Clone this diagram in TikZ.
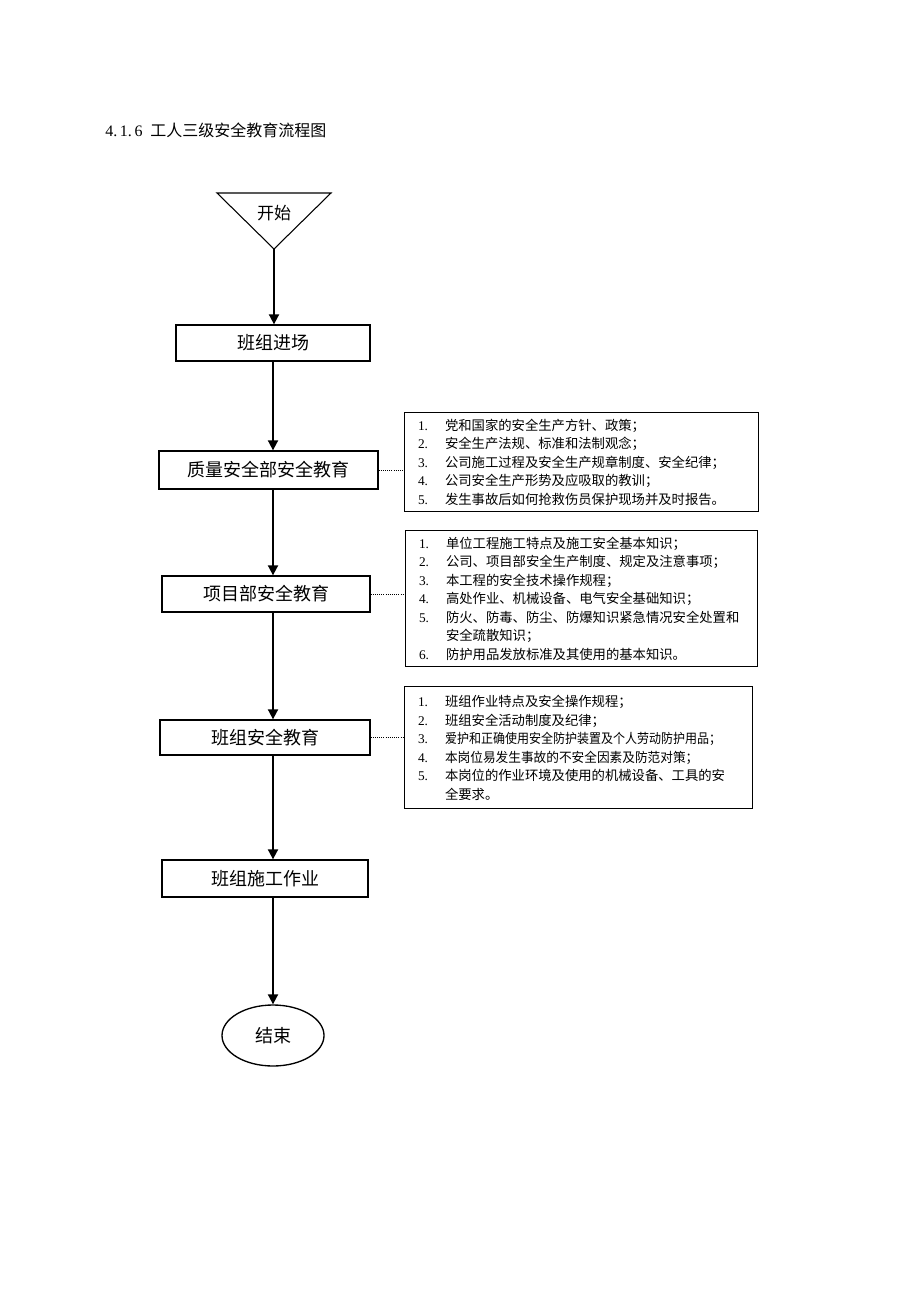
\documentclass[tikz,border=0pt]{standalone}
\usepackage{fontspec}
\setmainfont{Liberation Serif}
\newfontfamily\cjk{Noto Sans CJK SC}
\usetikzlibrary{arrows.meta,shapes.geometric}
\tikzset{
    stage/.style={draw,line width=1pt,inner sep=2pt,font=\cjk\fontsize{13.5}{16}\selectfont},
    note/.style={draw,line width=1pt,anchor=north west,align=left,inner xsep=10pt,inner ysep=0pt,font=\fontsize{10}{13.875}\selectfont},
}
\newcommand{\noteline}[2]{\makebox[20.25pt][l]{#1}{\cjk #2}}

\begin{document}
\begin{tikzpicture}[x=0.75pt,y=-0.75pt,arrow/.style={-{Triangle[length=7.5pt,width=7.5pt]},line width=1.4pt},link/.style={densely dotted,line width=0.6pt}]
    \useasboundingbox (0,0) rectangle (920,1302);
    \node[anchor=west,inner xsep=0pt,font=\fontsize{12}{14}\selectfont] (title) at (105,130) {\makebox[33.75pt][l]{4.\,1.\,6}{\cjk 工人三级安全教育流程图}};

    % start
    \draw[line width=0.8pt] (217,193) -- (331,193) -- (274,249) -- cycle;
    \node[font=\cjk\fontsize{12.75}{15}\selectfont] (start) at (274,213) {开始};
    \coordinate (tip) at (274,249);

    % main flow
    \node[stage,minimum width=145.5pt,minimum height=27pt] (b1) at (273,343) {班组进场};
    \node[stage,minimum width=164.25pt,minimum height=28.5pt] (b2) at (268.5,470) {质量安全部安全教育};
    \node[stage,minimum width=156pt,minimum height=27pt] (b3) at (266,594) {项目部安全教育};
    \node[stage,minimum width=157.5pt,minimum height=26.25pt] (b4) at (265,737.5) {班组安全教育};
    \node[stage,minimum width=154.5pt,minimum height=27.75pt] (b5) at (265,878.5) {班组施工作业};
    \node[ellipse,draw,line width=1pt,minimum width=76.5pt,minimum height=45.75pt,font=\cjk\fontsize{13.5}{16}\selectfont] (finish) at (273,1035.5) {结束};

    % notes
    \node[note,text width=245.5pt,minimum height=74.25pt] (n1) at (404,412) {%
        \noteline{1.}{党和国家的安全生产方针、政策；}\\
        \noteline{2.}{安全生产法规、标准和法制观念；}\\
        \noteline{3.}{公司施工过程及安全生产规章制度、安全纪律；}\\
        \noteline{4.}{公司安全生产形势及应吸取的教训；}\\
        \noteline{5.}{发生事故后如何抢救伤员保护现场并及时报告。}};
    \node[note,text width=244pt,minimum height=102pt] (n2) at (405,530) {%
        \noteline{1.}{单位工程施工特点及施工安全基本知识；}\\
        \noteline{2.}{公司、项目部安全生产制度、规定及注意事项；}\\
        \noteline{3.}{本工程的安全技术操作规程；}\\
        \noteline{4.}{高处作业、机械设备、电气安全基础知识；}\\
        \noteline{5.}{防火、防毒、防尘、防爆知识紧急情况安全处置和}\\
        \noteline{}{安全疏散知识；}\\
        \noteline{6.}{防护用品发放标准及其使用的基本知识。}};
    \node[note,text width=241pt,minimum height=91.5pt] (n3) at (404,686) {%
        \noteline{1.}{班组作业特点及安全操作规程；}\\
        \noteline{2.}{班组安全活动制度及纪律；}\\
        \noteline{3.}{\scalebox{0.9}[1]{爱护和正确使用安全防护装置及个人劳动防护用品；}}\\
        \noteline{4.}{\scalebox{0.95}[1]{本岗位易发生事故的不安全因素及防范对策；}}\\
        \noteline{5.}{本岗位的作业环境及使用的机械设备、工具的安}\\
        \noteline{}{全要求。}};

    % connectors
    \draw[arrow] (tip) -- (b1.north -| tip);
    \draw[arrow] (b1.south) -- (b2.north -| b1);
    \draw[arrow] (b2.south -| b1) -- (b3.north -| b1);
    \draw[arrow] (b3.south -| b1) -- (b4.north -| b1);
    \draw[arrow] (b4.south -| b1) -- (b5.north -| b1);
    \draw[arrow] (b5.south -| b1) -- (finish);
    \draw[link] (b2.east) -- (b2.east -| n1.west);
    \draw[link] (b3.east) -- (b3.east -| n2.west);
    \draw[link] (b4.east) -- (b4.east -| n3.west);
\end{tikzpicture}
\end{document}
